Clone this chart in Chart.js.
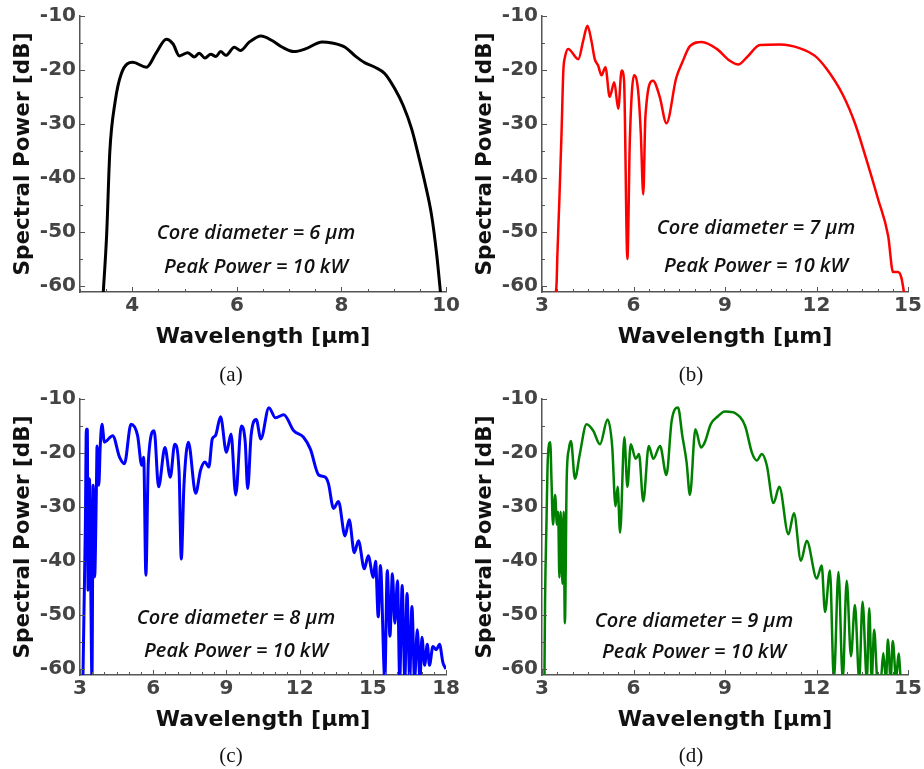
<!DOCTYPE html>
<html>
<head>
<meta charset="utf-8">
<script src="https://cdn.jsdelivr.net/npm/chart.js@4.4.0/dist/chart.umd.min.js"></script>
<style>
body { margin: 0; background: #fff; }
#wrap { position: relative; width: 924px; height: 769px; overflow: hidden; }
canvas { position: absolute; }
.note { position: absolute; font-family: "Open Sans"; font-style: italic; font-weight: 600; font-size: 20px; color: #111; white-space: nowrap; transform: translate(-50%, -50%); }
.cap { position: absolute; font-family: "Liberation Serif"; font-size: 21px; color: #111; transform: translate(-50%, -50%); }
</style>
</head>
<body>
<div id="wrap">
  <canvas id="chartA" width="462" height="380" style="left:0;top:0"></canvas>
  <canvas id="chartB" width="462" height="380" style="left:462px;top:0"></canvas>
  <canvas id="chartC" width="462" height="380" style="left:0;top:383px"></canvas>
  <canvas id="chartD" width="462" height="380" style="left:462px;top:383px"></canvas>

  <div class="note" style="left:256px;top:231px">Core diameter = 6 µm</div>
  <div class="note" style="left:256px;top:265px">Peak Power = 10 kW</div>
  <div class="note" style="left:756px;top:226px">Core diameter = 7 µm</div>
  <div class="note" style="left:756px;top:264px">Peak Power = 10 kW</div>
  <div class="note" style="left:236px;top:616px">Core diameter = 8 µm</div>
  <div class="note" style="left:236px;top:649px">Peak Power = 10 kW</div>
  <div class="note" style="left:694px;top:619px">Core diameter = 9 µm</div>
  <div class="note" style="left:694px;top:650px">Peak Power = 10 kW</div>

  <div class="cap" style="left:231px;top:374px">(a)</div>
  <div class="cap" style="left:691px;top:374px">(b)</div>
  <div class="cap" style="left:231px;top:755px">(c)</div>
  <div class="cap" style="left:691px;top:755px">(d)</div>
</div>
<script>
// (a) core 6 um
const aX = [3.44, 3.51, 3.57, 3.67, 3.79, 4.01, 4.27, 4.46, 4.65, 4.78, 4.90, 5.06, 5.19, 5.28, 5.39, 5.50, 5.60, 5.69, 5.79, 5.95, 6.07, 6.23, 6.46, 6.68, 6.87, 7.09, 7.31, 7.63, 7.82, 8.07, 8.26, 8.45, 8.64, 8.83, 9.02, 9.18, 9.34, 9.47, 9.59, 9.72, 9.82, 9.90];
const aY = [-62, -50.5, -35.2, -26, -20.7, -18.6, -19.5, -16.8, -14.3, -15.2, -17.4, -16.8, -17.6, -16.9, -17.8, -17.1, -17.5, -16.6, -17.3, -15.8, -16.4, -14.9, -13.7, -14.6, -15.8, -16.6, -16.1, -14.8, -15.0, -15.8, -17.4, -18.7, -19.5, -20.7, -23.5, -26.6, -30.9, -35.8, -40.7, -46.8, -54.2, -62];

// (b) core 7 um
const bX = [3.43, 3.48, 3.50, 3.57, 3.64, 3.70, 3.75, 3.86, 4.19, 4.35, 4.49, 4.62, 4.73, 4.84, 4.95, 5.08, 5.22, 5.37, 5.50, 5.61, 5.69, 5.80, 5.88, 6.02, 6.15, 6.24, 6.32, 6.39, 6.64, 6.86, 7.08, 7.40, 7.60, 7.85, 8.24, 8.73, 9.16, 9.44, 9.71, 10.15, 10.80, 11.46, 11.95, 12.33, 12.87, 13.26, 13.64, 14.02, 14.35, 14.51, 14.67, 14.78, 14.89];
const bY = [-62, -59.4, -55.1, -44, -31.8, -20.1, -17.7, -16.1, -18.0, -14.6, -11.8, -14.6, -18.0, -19.2, -21.0, -19.5, -25.0, -22.3, -27.2, -20.1, -22.0, -55.1, -33.0, -21.0, -23.8, -31.8, -43.1, -28.7, -22.0, -25.0, -29.9, -21.5, -18.6, -15.6, -14.8, -16.1, -18.3, -19.0, -17.7, -15.4, -15.3, -16.0, -17.4, -19.8, -24.7, -29.9, -36.7, -44.0, -50.8, -57.5, -57.5, -58.5, -62];

// (c) core 8 um
const cX = [3.12, 3.16, 3.22, 3.26, 3.30, 3.33, 3.39, 3.44, 3.49, 3.54, 3.60, 3.67, 3.70, 3.77, 3.83, 3.90, 4.00, 4.34, 4.62, 4.82, 5.09, 5.36, 5.53, 5.61, 5.70, 5.80, 6.04, 6.22, 6.48, 6.70, 6.88, 7.06, 7.15, 7.26, 7.44, 7.74, 7.94, 8.12, 8.28, 8.42, 8.55, 8.76, 9.00, 9.19, 9.38, 9.61, 9.77, 9.87, 10.01, 10.22, 10.41, 10.74, 11.01, 11.35, 11.76, 12.16, 12.44, 12.78, 13.05, 13.18, 13.39, 13.59, 13.86, 14.03, 14.24, 14.41, 14.65, 14.81, 15.02, 15.11, 15.22, 15.31, 15.49, 15.59, 15.70, 15.80, 15.90, 16.01, 16.10, 16.20, 16.31, 16.40, 16.51, 16.60, 16.71, 16.82, 16.93, 17.01, 17.12, 17.23, 17.32, 17.46, 17.60, 17.73, 17.87, 18.0];
const cY = [-62, -50.4, -33.3, -15.6, -15.6, -45.5, -24.8, -44.3, -62, -26, -43, -27.2, -18.7, -26, -18.7, -14.7, -18.0, -16.8, -20.8, -22.0, -14.7, -16.8, -22.3, -20.8, -42.7, -21.7, -15.9, -26.3, -19.0, -24.5, -18.4, -23.5, -39.7, -26.0, -18.0, -27.5, -23.2, -21.7, -22.6, -17.4, -16.8, -13.3, -19.9, -16.5, -27.8, -15.0, -18.0, -26.6, -16.8, -13.8, -17.4, -11.6, -13.5, -12.9, -15.9, -17.1, -19.3, -24.1, -24.5, -25.7, -30.3, -29.0, -35.4, -32.4, -38.5, -36.3, -41.5, -39.1, -43.1, -40.1, -50.4, -40.9, -62, -41.8, -54.0, -42.4, -51.6, -43.7, -62, -44.6, -62, -46.1, -62, -48.5, -62, -52.8, -62, -54.2, -59.4, -55.5, -59.4, -55.9, -56.5, -55.5, -58.9, -60.1];

// (d) core 9 um
const dX = [3.08, 3.10, 3.15, 3.18, 3.23, 3.27, 3.31, 3.36, 3.43, 3.49, 3.53, 3.57, 3.61, 3.67, 3.71, 3.75, 3.81, 3.88, 3.95, 4.08, 4.24, 4.46, 4.68, 4.90, 5.15, 5.30, 5.41, 5.48, 5.56, 5.70, 5.80, 5.91, 6.07, 6.18, 6.32, 6.50, 6.65, 6.87, 7.08, 7.25, 7.46, 7.60, 7.74, 7.85, 8.03, 8.21, 8.34, 8.53, 8.77, 8.99, 9.17, 9.33, 9.66, 9.88, 10.04, 10.21, 10.37, 10.59, 10.78, 11.08, 11.26, 11.49, 11.68, 12.01, 12.17, 12.28, 12.44, 12.57, 12.72, 12.86, 12.99, 13.13, 13.26, 13.40, 13.51, 13.65, 13.73, 13.81, 13.89, 14.00, 14.11, 14.19, 14.28, 14.34, 14.43, 14.50, 14.61, 14.69, 14.76];
const dY = [-62, -47.6, -32.1, -22.9, -18.4, -18.0, -24.8, -33.3, -27.8, -33.3, -30.9, -43.1, -30.9, -44.3, -30.9, -51.6, -24.8, -19.3, -17.8, -24.8, -20.2, -14.7, -15.9, -18.4, -13.8, -18.7, -29.9, -26.3, -34.8, -17.1, -26.3, -18.4, -21.1, -20.2, -29.0, -18.7, -21.1, -18.7, -24.1, -14.1, -11.6, -16.8, -21.7, -27.8, -15.6, -19.0, -18.0, -14.7, -13.2, -12.3, -12.4, -12.6, -15.0, -19.9, -21.4, -20.2, -22.3, -29.3, -26.3, -35.1, -31.2, -40.0, -36.3, -43.3, -40.9, -49.5, -41.8, -62, -42.1, -62, -43.7, -57.7, -48.2, -62, -47.6, -62, -48.8, -62, -52.8, -62, -62, -57.1, -62, -54.6, -62, -54.9, -62, -57.2, -62];

// tick labels
const yLabels = [-60, -50, -40, -30, -20, -10];
const aXLabels = [4, 6, 8, 10];
const bXLabels = [3, 6, 9, 12, 15];
const cXLabels = [3, 6, 9, 12, 15, 18];
const dXLabels = [3, 6, 9, 12, 15];

const Y_MIN = -61.2, Y_MAX = -10;
const AXIS_COLOR = '#555';
const TICK_FONT = { family: 'DejaVu Sans', weight: 'bold', size: 20 };

// tick marks drawn inside the plot box, like the original
const innerTicks = {
  id: 'innerTicks',
  afterDraw(chart) {
    const ctx = chart.ctx;
    const area = chart.chartArea;
    const sx = chart.scales.x, sy = chart.scales.y;
    ctx.save();
    ctx.strokeStyle = AXIS_COLOR;
    ctx.lineWidth = 1;
    sx.ticks.forEach(t => {
      const px = Math.round(sx.getPixelForValue(t.value)) + 0.5;
      const len = t.label !== '' ? 5 : 3;
      ctx.beginPath();
      ctx.moveTo(px, area.bottom);
      ctx.lineTo(px, area.bottom - len);
      ctx.stroke();
    });
    sy.ticks.forEach(t => {
      const py = Math.round(sy.getPixelForValue(t.value)) + 0.5;
      const len = t.label !== '' ? 5 : 3;
      ctx.beginPath();
      ctx.moveTo(area.left, py);
      ctx.lineTo(area.left + len, py);
      ctx.stroke();
    });
    ctx.restore();
  }
};

function makeChart(id, xs, ys, color, lw, xMin, xMax, xLabels, padRight) {
  const xTicks = [];
  for (let v = xMin; v <= xMax + 1e-9; v += 0.5) xTicks.push(v);
  const yTicks = [];
  for (let v = -60; v <= Y_MAX + 1e-9; v += 5) yTicks.push(v);

  return new Chart(document.getElementById(id), {
    type: 'line',
    data: {
      datasets: [{
        data: xs.map((x, i) => ({ x: x, y: ys[i] })),
        borderColor: color,
        borderWidth: lw,
        pointRadius: 0,
        fill: false,
        cubicInterpolationMode: 'monotone',
        clip: 0
      }]
    },
    options: {
      responsive: false,
      animation: false,
      devicePixelRatio: 1,
      layout: { padding: { left: 0, top: 13, right: padRight, bottom: 30 } },
      plugins: { legend: { display: false }, tooltip: { enabled: false } },
      scales: {
        x: {
          type: 'linear',
          min: xMin,
          max: xMax,
          afterBuildTicks: s => { s.ticks = xTicks.map(v => ({ value: v })); },
          afterFit: s => { s.height = 58; },
          grid: { display: false, drawTicks: false },
          border: { color: AXIS_COLOR, width: 1.5 },
          ticks: {
            autoSkip: false,
            maxRotation: 0,
            padding: 2,
            color: '#444',
            font: TICK_FONT,
            callback: v => xLabels.some(l => Math.abs(l - v) < 1e-6) ? String(v) : ''
          },
          title: {
            display: true,
            text: 'Wavelength [µm]',
            color: '#111',
            font: { family: 'DejaVu Sans', weight: 'bold', size: 22 },
            padding: { top: 0, bottom: 0 }
          }
        },
        y: {
          min: Y_MIN,
          max: Y_MAX,
          afterBuildTicks: s => { s.ticks = yTicks.map(v => ({ value: v })); },
          afterFit: s => { s.width = 80; },
          grid: { display: false, drawTicks: false },
          border: { color: AXIS_COLOR, width: 1.5 },
          ticks: {
            autoSkip: false,
            padding: 4,
            color: '#444',
            font: TICK_FONT,
            callback: v => yLabels.includes(v) ? String(v) : ''
          },
          title: {
            display: true,
            text: 'Spectral Power [dB]',
            color: '#111',
            font: { family: 'DejaVu Sans', weight: 'bold', size: 21.5 },
            padding: { top: 11, bottom: 0 }
          }
        }
      }
    },
    plugins: [innerTicks]
  });
}

makeChart('chartA', aX, aY, '#000000', 3, 3, 10, aXLabels, 14);
makeChart('chartB', bX, bY, '#ff0000', 2.5, 3, 15, bXLabels, 16);
makeChart('chartC', cX, cY, '#0000ff', 3, 3, 18, cXLabels, 14);
makeChart('chartD', dX, dY, '#008000', 2.5, 3, 15, dXLabels, 16);
</script>
</body>
</html>
